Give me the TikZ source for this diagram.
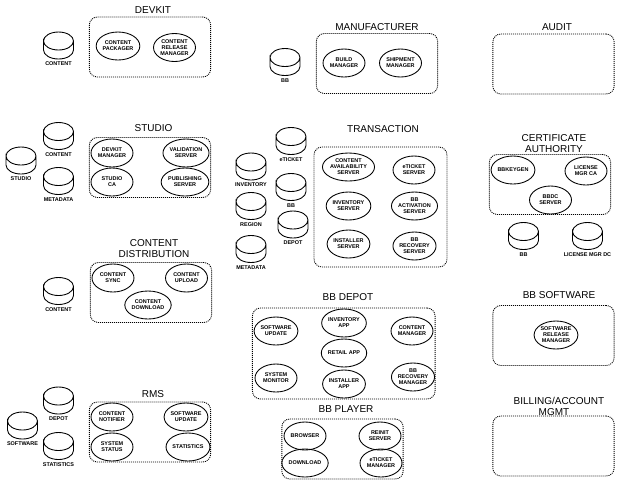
\documentclass[tikz,border=0pt]{standalone}
\usepackage{fontspec}
\setmainfont{Liberation Sans}
\usetikzlibrary{positioning}
\usetikzlibrary{shapes.geometric}

\begin{document}
\begin{tikzpicture}[
        x=0.75pt, y=-0.75pt,
        node distance= 2.2pt and 2.2pt,
        line width=0.65pt,
        every node/.style={inner sep=0pt, outer sep=0pt},
        group/.style={draw, dash pattern=on 0.75pt off 0.75pt, rounded corners=6pt, minimum width=91pt, minimum height=45pt},
        grouptitle/.style={align=center, font=\fontsize{7.5}{8.6}\selectfont},
        proc/.style={draw, ellipse, align=center, minimum width=31.5pt, minimum height=21pt, font=\fontsize{4.1}{4.5}\selectfont\bfseries},
        procwide/.style={proc, minimum width=34.5pt},
        db/.style={minimum width=22.5pt, minimum height=20.25pt, append after command={\pgfextra{
            \draw ([yshift=-6.75pt]\tikzlastnode.north west) arc[start angle=180, end angle=-180, x radius=11.25pt, y radius=6.75pt]
                -- ([yshift=6.75pt]\tikzlastnode.south west) arc[start angle=180, end angle=360, x radius=11.25pt, y radius=6.75pt]
                -- ([yshift=-6.75pt]\tikzlastnode.north east);
        }}},
        dbname/.style={font=\fontsize{4.1}{4.5}\selectfont\bfseries}
    ]
        \useasboundingbox (0,0) rectangle (625,480);

        % devkit
        \node[group] (devkit) at (150,47) {};
        \node[grouptitle] (devkitT) at (153,10) {DEVKIT};
        \node[proc] (packager) at (118,46) {CONTENT\\PACKAGER};
        \node[proc] (releasemgr) at (174.5,47.5) {CONTENT\\RELEASE\\MANAGER};
        \node[db] (dbC1) at (58.5,45.5) {};
        \node[dbname, below = of dbC1] (dbC1L) {CONTENT};

        % studio
        \node[group] (studio) at (150,167.5) {};
        \node[grouptitle] (studioT) at (153.5,128.5) {STUDIO};
        \node[proc] (devkitmgr) at (112,153) {DEVKIT\\MANAGER};
        \node[proc] (validation) at (186,153) {VALIDATION\\SERVER};
        \node[proc] (studioca) at (112,182) {STUDIO\\CA};
        \node[procwide] (publishing) at (185,182) {PUBLISHING\\SERVER};
        \node[db] (dbC2) at (58.5,136) {};
        \node[dbname, below = of dbC2] (dbC2L) {CONTENT};
        \node[db] (dbS) at (21,160.5) {};
        \node[dbname, below = of dbS] (dbSL) {STUDIO};
        \node[db] (dbM1) at (58.5,181) {};
        \node[dbname, below = of dbM1] (dbM1L) {METADATA};

        % content distribution
        \node[group] (dist) at (151,292.5) {};
        \node[grouptitle] (distT) at (154,248.5) {CONTENT\\DISTRIBUTION};
        \node[proc] (sync) at (113,278) {CONTENT\\SYNC};
        \node[proc] (upload) at (186.5,278) {CONTENT\\UPLOAD};
        \node[proc] (download) at (148,305) {CONTENT\\DOWNLOAD};
        \node[db] (dbC3) at (58.5,291) {};
        \node[dbname, below = of dbC3] (dbC3L) {CONTENT};

        % rms
        \node[group] (rms) at (150,432) {};
        \node[grouptitle] (rmsT) at (153,394.5) {RMS};
        \node[proc] (notifier) at (112,417) {CONTENT\\NOTIFIER};
        \node[proc] (swupdate) at (186,417) {SOFTWARE\\UPDATE};
        \node[proc] (status) at (112,447) {SYSTEM\\STATUS};
        \node[proc] (stats) at (188,447) {STATISTICS};
        \node[db] (dbD1) at (58.5,400.5) {};
        \node[dbname, below = of dbD1] (dbD1L) {DEPOT};
        \node[db] (dbSw) at (22.5,425.5) {};
        \node[dbname, below = of dbSw] (dbSwL) {SOFTWARE};
        \node[db] (dbSt) at (58.5,446) {};
        \node[dbname, below = of dbSt] (dbStL) {STATISTICS};

        % manufacturer
        \node[group] (manuf) at (377,63.5) {};
        \node[grouptitle] (manufT) at (377,27) {MANUFACTURER};
        \node[proc] (build) at (344,63) {BUILD\\MANAGER};
        \node[proc] (shipment) at (400.5,63) {SHIPMENT\\MANAGER};
        \node[db] (dbB1) at (285,62) {};
        \node[dbname, below = of dbB1] (dbB1L) {BB};

        % transaction
        \node[group, minimum width=99.75pt, minimum height=90pt] (trans) at (380.5,207) {};
        \node[grouptitle] (transT) at (383,129.5) {TRANSACTION};
        \node[procwide] (avail) at (348.5,167) {CONTENT\\AVAILABILITY\\SERVER};
        \node[proc] (eticket) at (414,170) {eTICKET\\SERVER};
        \node[proc] (invserver) at (348.5,206) {INVENTORY\\SERVER};
        \node[procwide] (activation) at (414.5,206) {BB\\ACTIVATION\\SERVER};
        \node[proc] (installer) at (348.5,244) {INSTALLER\\SERVER};
        \node[proc] (recovery) at (414.5,246) {BB\\RECOVERY\\SERVER};
        \node[db] (dbE) at (291,141) {};
        \node[dbname, below = of dbE] (dbEL) {eTICKET};
        \node[db] (dbB2) at (291,187) {};
        \node[dbname, below = of dbB2] (dbB2L) {BB};
        \node[db] (dbD2) at (293,224.5) {};
        \node[dbname, below = of dbD2] (dbD2L) {DEPOT};
        \node[db] (dbI) at (251,166.5) {};
        \node[dbname, below = of dbI] (dbIL) {INVENTORY};
        \node[db] (dbR) at (251,206) {};
        \node[dbname, below = of dbR] (dbRL) {REGION};
        \node[db] (dbM2) at (251,249) {};
        \node[dbname, below = of dbM2] (dbM2L) {METADATA};

        % bb depot
        \node[group, minimum width=137pt, minimum height=68.25pt] (depot) at (343.75,353.5) {};
        \node[grouptitle] (depotT) at (348,297) {BB DEPOT};
        \node[proc] (swupdate2) at (276,331) {SOFTWARE\\UPDATE};
        \node[proc] (invapp) at (344,323) {INVENTORY\\APP};
        \node[proc] (contentmgr) at (412,331) {CONTENT\\MANAGER};
        \node[proc] (retail) at (344,353) {RETAIL APP};
        \node[proc] (monitor) at (276,378) {SYSTEM\\MONITOR};
        \node[proc] (instapp) at (344,384) {INSTALLER\\APP};
        \node[proc] (recmgr) at (413,377) {BB\\RECOVERY\\MANAGER};

        % bb player
        \node[group] (player) at (342.5,449) {};
        \node[grouptitle] (playerT) at (346,409) {BB PLAYER};
        \node[proc] (browser) at (305,436) {BROWSER};
        \node[proc] (reinit) at (380,436) {REINIT\\SERVER};
        \node[proc] (dload) at (305,463) {DOWNLOAD};
        \node[proc] (eticketmgr) at (381,463) {eTICKET\\MANAGER};

        % audit
        \node[group] (audit) at (553.5,64) {};
        \node[grouptitle] (auditT) at (557,27) {AUDIT};

        % certificate authority
        \node[group] (ca) at (550,184.5) {};
        \node[grouptitle] (caT) at (554,143.5) {CERTIFICATE\\AUTHORITY};
        \node[proc] (keygen) at (513,170) {BBKEYGEN};
        \node[proc] (licca) at (586,171) {LICENSE\\MGR CA};
        \node[proc] (bbdc) at (550.5,200) {BBDC\\SERVER};
        \node[db] (dbB3) at (523.5,236) {};
        \node[dbname, below = of dbB3] (dbB3L) {BB};
        \node[db] (dbL) at (587.5,236) {};
        \node[dbname, below = of dbL] (dbLL) {LICENSE MGR DC};

        % bb software
        \node[group] (software) at (553.5,335.5) {};
        \node[grouptitle] (softwareT) at (559,295.5) {BB SOFTWARE};
        \node[proc] (swrelease) at (556,335) {SOFTWARE\\RELEASE\\MANAGER};

        % billing
        \node[group] (billing) at (553.5,446) {};
        \node[grouptitle] (billingT) at (559,406.5) {BILLING/ACCOUNT\\MGMT\kern7.5pt};
    \end{tikzpicture}
\end{document}
